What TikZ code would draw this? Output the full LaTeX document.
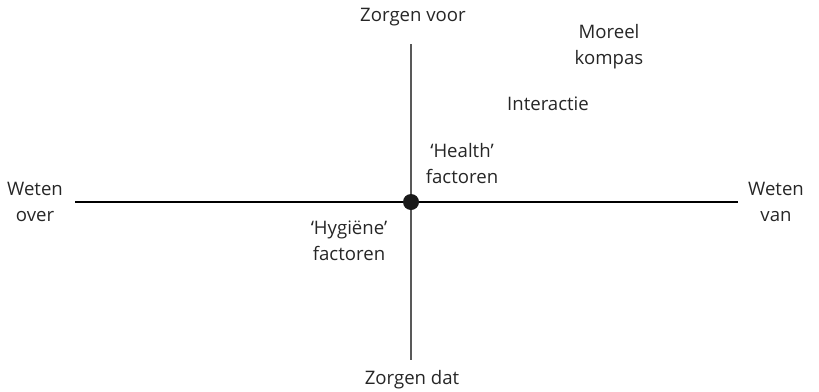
\documentclass[tikz,border=0pt]{standalone}
\usepackage{fontspec}
\setmainfont{Open Sans}
\begin{document}
\begin{tikzpicture}[x=1pt,y=-1pt,
  lbl/.style={align=center,inner sep=0pt,font=\fontsize{18.6}{26}\selectfont,text=black!85},
  axis/.style={line width=1.2pt}]
\useasboundingbox (0,0) rectangle (819,391);
% axes
\coordinate (top) at (411,44);
\coordinate (bot) at (411,360);
\coordinate (lft) at (75,202);
\coordinate (rgt) at (738,202);
\node[circle,inner sep=0pt,minimum size=16pt] (o) at (411,202) {};
\draw[axis,black!65] (top) -- (bot);
\draw[axis,black] (lft) -- (rgt);
\fill[black!90] (o) circle (8pt);
% labels
\node[lbl] (zv) at (413,17) {Zorgen voor};
\node[lbl] (zd) at (412,380) {Zorgen dat};
\node[lbl] (wo) at (35,202) {Weten\\over};
\node[lbl] (wv) at (776,202) {Weten\\van};
\node[lbl] (mk) at (609,47) {Moreel\\kompas};
\node[lbl] (ia) at (548,104) {Interactie};
\node[lbl] (hf) at (462,164) {‘Health’\\factoren};
\node[lbl] (hy) at (349,241) {‘Hygiëne’\\factoren};
\end{tikzpicture}
\end{document}
